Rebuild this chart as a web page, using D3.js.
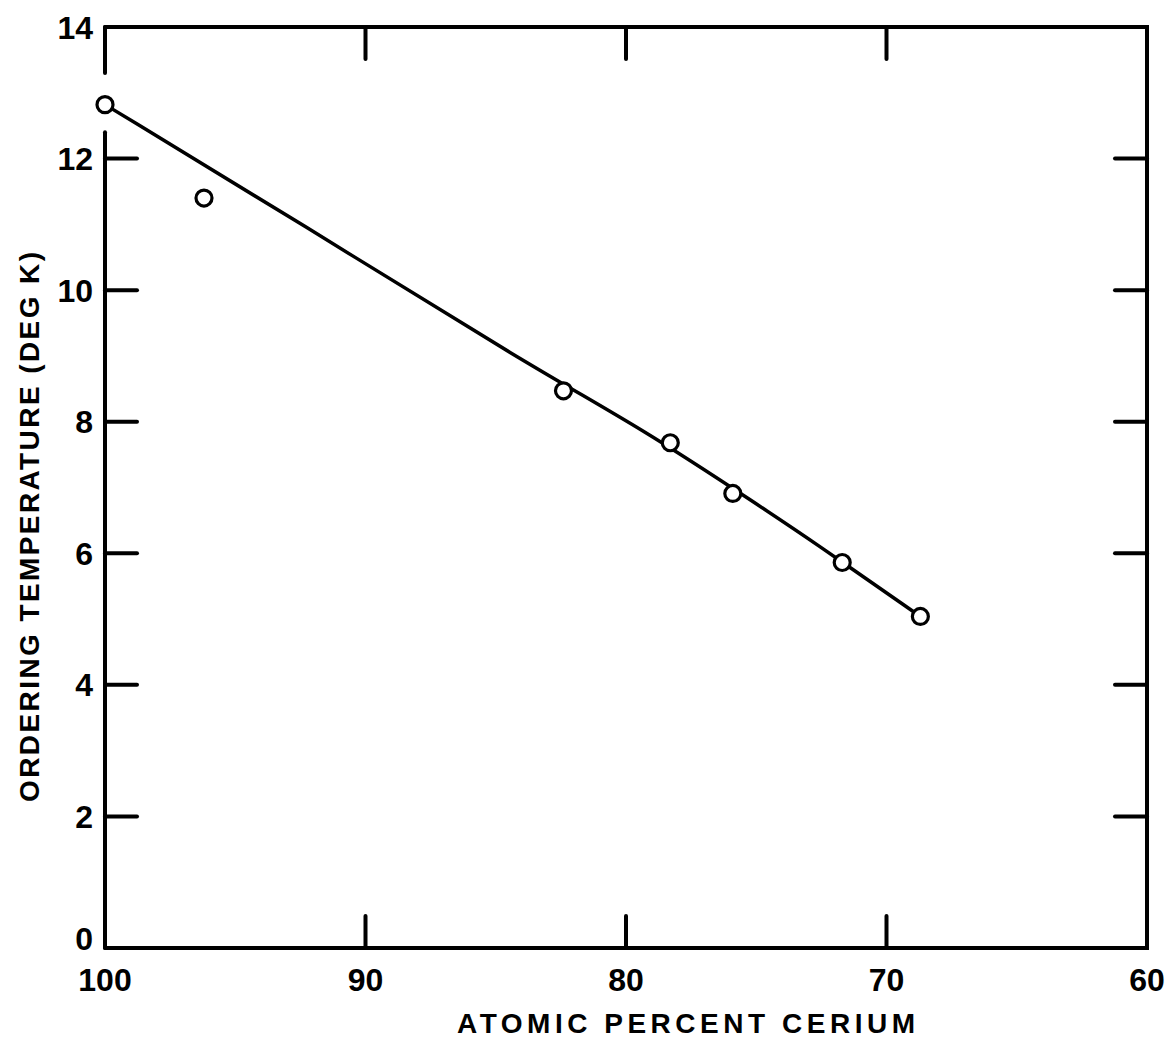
<!DOCTYPE html>
<html>
<head>
<meta charset="utf-8">
<script src="https://cdn.jsdelivr.net/npm/d3@7"></script>
<style>
  body { margin: 0; background: #fff; }
  svg { display: block; }
  .tick-label { font-family: "Liberation Sans", Arial, sans-serif; font-weight: bold; fill: #000; }
  .axis-title { font-family: "Liberation Sans", Arial, sans-serif; font-weight: bold; fill: #000; }
</style>
</head>
<body>
<div id="chart"></div>
<script>
// data
var ceriumPct = [100, 96.2, 82.4, 78.3, 75.9, 71.7, 68.7];
var orderTempK = [12.82, 11.4, 8.47, 7.68, 6.91, 5.86, 5.04];
// hand-drawn trend line, traced along its length
var fitX = [100, 92.5, 83.7, 79.4, 74.8, 72.9, 68.7];
var fitY = [12.82, 11.02, 8.85, 7.9, 6.7, 6.2, 5.04];
var xTicks = [100, 90, 80, 70, 60];
var yTicks = [0, 2, 4, 6, 8, 10, 12, 14];
var leftGap = [13.3, 12.4]; // left frame line is broken around the first point

(function() {
    var width = 1172,
        height = 1049,
        plotLeft = 105, plotRight = 1147, plotTop = 27, plotBottom = 948,
        tickLen = 32;

    var x = d3.scaleLinear().domain([100, 60]).range([plotLeft, plotRight]);
    var y = d3.scaleLinear().domain([0, 14]).range([plotBottom, plotTop]);

    var svg = d3.select('#chart').append('svg')
        .attr('width', width)
        .attr('height', height);

    var frame = svg.append('g')
        .attr('stroke', '#000')
        .attr('stroke-width', 4)
        .attr('fill', 'none')
        .attr('stroke-linecap', 'round');

    // top, right, bottom sides
    frame.append('path')
        .attr('d', 'M' + plotLeft + ',' + plotTop + 'H' + plotRight + 'V' + plotBottom + 'H' + plotLeft);
    // left side in two pieces
    frame.append('line')
        .attr('x1', plotLeft).attr('x2', plotLeft)
        .attr('y1', y(0)).attr('y2', y(leftGap[1]));
    frame.append('line')
        .attr('x1', plotLeft).attr('x2', plotLeft)
        .attr('y1', y(leftGap[0])).attr('y2', y(14));

    // inward ticks
    var innerX = xTicks.slice(1, -1),
        innerY = yTicks.slice(1, -1);

    frame.selectAll('.tb').data(innerX).enter().append('line')
        .attr('x1', function(d) { return x(d); })
        .attr('x2', function(d) { return x(d); })
        .attr('y1', plotBottom).attr('y2', plotBottom - tickLen);
    frame.selectAll('.tt').data(innerX).enter().append('line')
        .attr('x1', function(d) { return x(d); })
        .attr('x2', function(d) { return x(d); })
        .attr('y1', plotTop).attr('y2', plotTop + tickLen);
    frame.selectAll('.tl').data(innerY).enter().append('line')
        .attr('y1', function(d) { return y(d); })
        .attr('y2', function(d) { return y(d); })
        .attr('x1', plotLeft).attr('x2', plotLeft + tickLen);
    frame.selectAll('.tr').data(innerY).enter().append('line')
        .attr('y1', function(d) { return y(d); })
        .attr('y2', function(d) { return y(d); })
        .attr('x1', plotRight).attr('x2', plotRight - tickLen);

    // tick labels
    svg.selectAll('.xl').data(xTicks).enter().append('text')
        .attr('class', 'tick-label')
        .attr('x', function(d) { return x(d); })
        .attr('y', plotBottom + 43)
        .attr('text-anchor', 'middle')
        .attr('font-size', 32)
        .text(function(d) { return d; });

    svg.selectAll('.yl').data(yTicks).enter().append('text')
        .attr('class', 'tick-label')
        .attr('x', plotLeft - 12)
        // the zero sits a little above the corner
        .attr('y', function(d) { return y(d) - (d === 0 ? 10 : 0); })
        .attr('dy', '0.36em')
        .attr('text-anchor', 'end')
        .attr('font-size', 32)
        .text(function(d) { return d; });

    // axis titles
    svg.append('text')
        .attr('class', 'axis-title')
        .attr('x', 686)
        .attr('y', 1033)
        .attr('text-anchor', 'middle')
        .attr('font-size', 28)
        .attr('textLength', 458)
        .attr('lengthAdjust', 'spacing')
        .text('ATOMIC PERCENT CERIUM');

    svg.append('text')
        .attr('class', 'axis-title')
        .attr('transform', 'translate(39,527) rotate(-90)')
        .attr('text-anchor', 'middle')
        .attr('font-size', 28)
        .attr('textLength', 550)
        .attr('lengthAdjust', 'spacing')
        .text('ORDERING TEMPERATURE (DEG K)');

    // trend line
    var line = d3.line()
        .x(function(d) { return x(d[0]); })
        .y(function(d) { return y(d[1]); })
        .curve(d3.curveBasis);

    svg.append('path')
        .datum(fitX.map(function(v, i) { return [v, fitY[i]]; }))
        .attr('d', line)
        .attr('fill', 'none')
        .attr('stroke', '#000')
        .attr('stroke-width', 3.5);

    // data points
    var pts = ceriumPct.map(function(c, i) { return { c: c, t: orderTempK[i] }; });
    svg.selectAll('.pt').data(pts).enter().append('circle')
        .attr('cx', function(d) { return x(d.c); })
        .attr('cy', function(d) { return y(d.t); })
        .attr('r', 8)
        .attr('fill', '#fff')
        .attr('stroke', '#000')
        .attr('stroke-width', 3.2);
})();
</script>
</body>
</html>
